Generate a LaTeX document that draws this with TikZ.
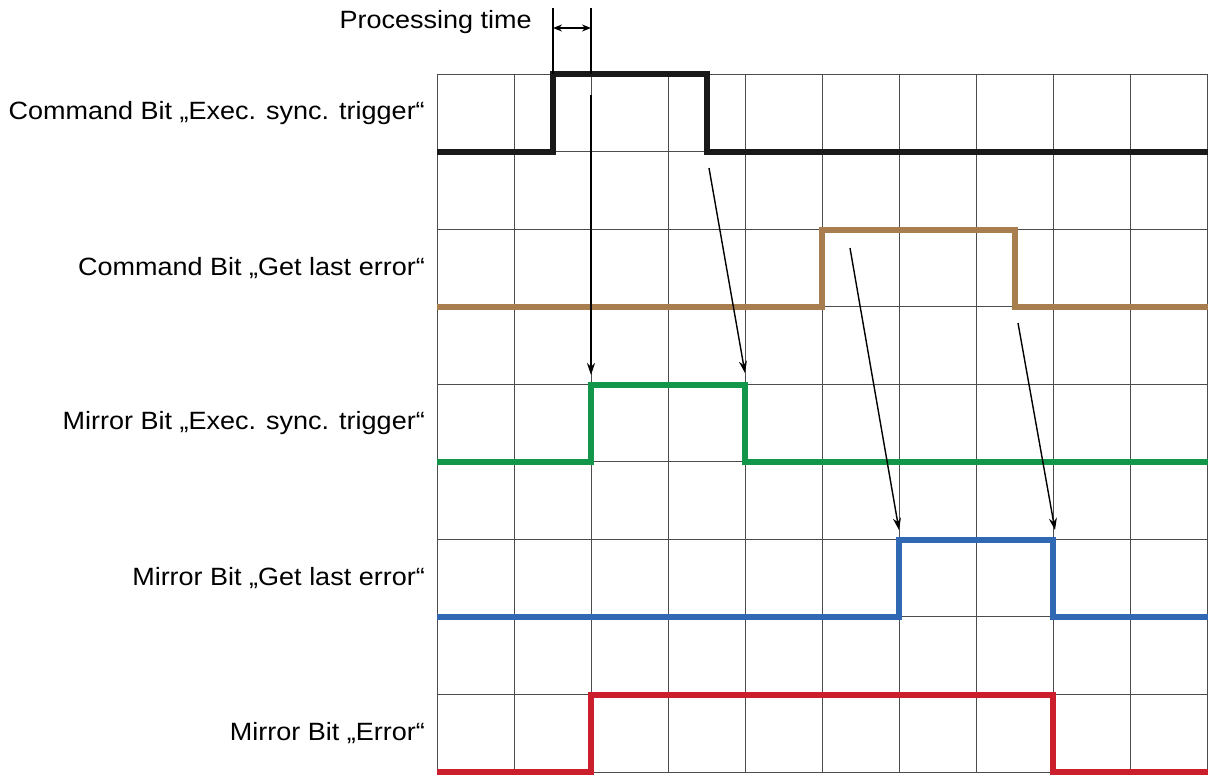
\documentclass[tikz,border=0pt]{standalone}
\usepackage{fontspec}
\setmainfont{Liberation Sans}
\usetikzlibrary{arrows.meta}
\definecolor{cbrown}{HTML}{A87E4E}
\definecolor{cgreen}{HTML}{12974A}
\definecolor{cblue}{HTML}{3068B4}
\definecolor{cred}{HTML}{CC1F2E}
\begin{document}
\begin{tikzpicture}[x=1pt,y=-1pt,
  gridl/.style={draw=black!70,line width=0.9pt},
  sig/.style={line width=5.5pt,line join=miter},
  lab/.style={anchor=east,font=\fontsize{25}{30}\selectfont,inner sep=0pt,xscale=1.08},
  arr/.style={-{Stealth[length=12pt,width=8pt]},line width=1.4pt}]
\useasboundingbox (0,0) rectangle (1218,784);
\foreach \i in {0,...,10} \draw[gridl] (437+77*\i,74) -- (437+77*\i,772);
\foreach \j in {0,...,9} \draw[gridl] (437,74+77.55*\j) -- (1207,74+77.55*\j);
\draw[sig,black!90] (437,152) -- (553,152) -- (553,74) -- (707,74) -- (707,152) -- (1208,152);
\draw[sig,cbrown] (437,307) -- (822,307) -- (822,230) -- (1015,230) -- (1015,307) -- (1208,307);
\draw[sig,cgreen] (437,462) -- (591,462) -- (591,385) -- (745,385) -- (745,462) -- (1208,462);
\draw[sig,cblue] (437,617) -- (899,617) -- (899,540) -- (1053,540) -- (1053,617) -- (1208,617);
\draw[sig,cred] (437,772) -- (591,772) -- (591,695) -- (1053,695) -- (1053,772) -- (1208,772);
\coordinate (a1s) at (591,95); \coordinate (a1e) at (591,375);
\coordinate (a2s) at (709,168); \coordinate (a2e) at (745,373);
\coordinate (a3s) at (850,248); \coordinate (a3e) at (899,530);
\coordinate (a4s) at (1018,323); \coordinate (a4e) at (1055,530);
\draw[arr] (a1s) -- (a1e);
\draw[arr] (a2s) -- (a2e);
\draw[arr] (a3s) -- (a3e);
\draw[arr] (a4s) -- (a4e);
\coordinate (p1) at (553,8); \coordinate (p2) at (591,8);
\draw[line width=1.4pt] (p1) -- (553,74);
\draw[line width=1.4pt] (p2) -- (591,74);
\draw[{Stealth[length=9pt,width=7pt]}-{Stealth[length=9pt,width=7pt]},line width=1.4pt] (553,28) -- (591,28);
\node[lab] (pt) at (532,22) {Processing time};
\node[lab] (l1) at (425,113) {Command Bit „Exec. sync. trigger“};
\node[lab] (l2) at (425,268) {Command Bit „Get last error“};
\node[lab] (l3) at (425,423) {Mirror Bit „Exec. sync. trigger“};
\node[lab] (l4) at (425,578) {Mirror Bit „Get last error“};
\node[lab] (l5) at (425,733) {Mirror Bit „Error“};
\end{tikzpicture}
\end{document}
